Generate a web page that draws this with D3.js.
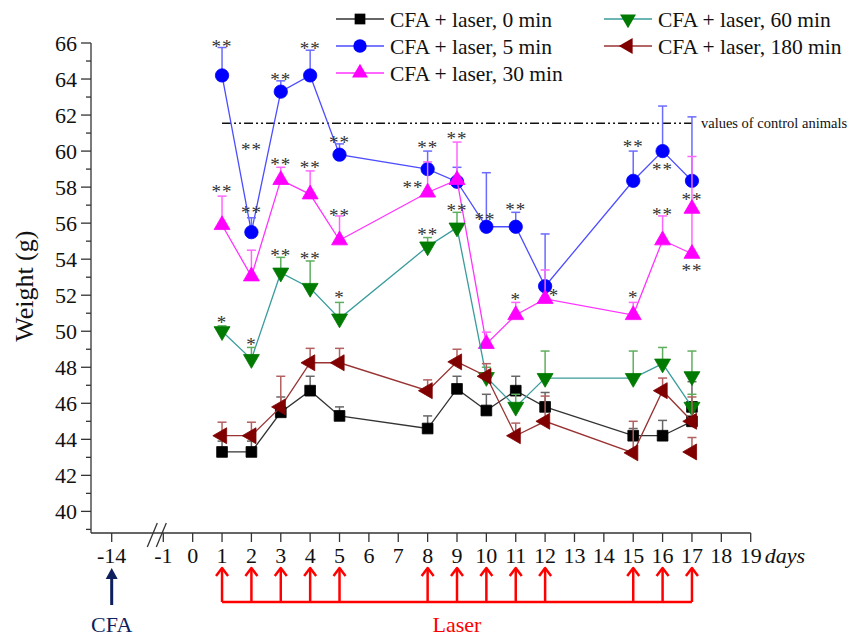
<!DOCTYPE html>
<html>
<head>
<meta charset="utf-8">
<script src="https://cdn.jsdelivr.net/npm/d3@7/dist/d3.min.js"></script>
<style>
  body { margin: 0; background: #fff; }
  svg text { font-family: 'Liberation Serif', 'Times New Roman', serif; }
</style>
</head>
<body>
<svg id="chart" width="860" height="636"></svg>
<script>
// days with measurements (laser applied on these days too)
var days = [1, 2, 3, 4, 5, 8, 9, 10, 11, 12, 15, 16, 17];
var xTicks = [-14, -1, 0, 1, 2, 3, 4, 5, 6, 7, 8, 9, 10, 11, 12, 13, 14, 15, 16, 17, 18, 19];
var yTicks = [40, 42, 44, 46, 48, 50, 52, 54, 56, 58, 60, 62, 64, 66];
var yMinor = [39, 41, 43, 45, 47, 49, 51, 53, 55, 57, 59, 61, 63, 65];

// mean weight and upper error value, per group
var w0 = [43.3, 43.3, 45.5, 46.7, 45.3, 44.6, 46.8, 45.6, 46.7, 45.8, 44.2, 44.2, 45.0];
var e0 = [43.9, 43.9, 46.35, 47.5, 45.8, 45.3, 47.5, 46.5, 47.5, 46.6, 44.6, 45.05, 45.6];
var w5 = [64.2, 55.5, 63.3, 64.2, 59.8, 59.0, 58.3, 55.8, 55.8, 52.5, 58.35, 60.0, 58.35];
var e5 = [65.75, 56.3, 63.9, 65.6, 60.4, 60.0, 59.1, 58.8, 56.6, 55.4, 60.0, 62.5, 61.9];
var w30 = [55.9, 53.05, 58.4, 57.6, 55.05, 57.7, 58.4, 49.3, 50.9, 51.8, 50.9, 55.05, 54.3];
var e30 = [57.5, 54.5, 59.1, 58.9, 56.4, 59.4, 60.5, 49.95, 51.6, 53.4, 51.6, 56.4, 56.6];
var w60 = [50.0, 48.45, 53.25, 52.4, 50.7, 54.7, 55.75, 47.45, 45.8, 47.4, 47.4, 48.2, 45.8];
var e60 = [50.3, 49.1, 54.1, 53.9, 51.6, 55.2, 56.6, 48.0, 46.5, 48.9, 48.9, 49.1, 46.5];
var w180 = [44.2, 44.2, 45.8, 48.25, 48.25, 46.7, 48.3, 47.5, 44.2, 45.0, 43.25, 46.7, 45.0];
var e180 = [44.95, 44.95, 47.5, 49.05, 49.05, 47.3, 49.0, 48.2, 44.9, 46.4, 45.0, 47.4, 46.35];

// second (unconnected) point plotted at day 17
var extraDay = 17;
var extraVal = { w0: 45.8, w30: 56.8, w60: 47.5, w180: 43.3 };
var extraErr = { w0: 47.2, w30: 59.7, w60: 48.9, w180: 44.1 };

var controlValue = 61.55;

// significance marks: day (x position), value (visual centre), text
var starDays = [1, 1, 1, 2, 2, 2, 3, 3, 3, 4, 4, 4, 5, 5, 5, 8, 7.5, 8, 9, 9, 9.95, 11, 11, 12.3, 15, 15, 16, 16, 17, 17];
var starVals = [66.0, 58.0, 50.7, 60.3, 56.8, 49.5, 64.2, 59.5, 54.45, 65.9, 59.3, 54.25, 60.7, 56.65, 52.1,
                60.4, 58.2, 55.6, 60.9, 56.9, 56.4, 56.95, 52.0, 52.2, 60.45, 52.1, 59.2, 56.7, 57.55, 53.6];
var starText = ["**", "**", "*", "**", "**", "*", "**", "**", "**", "**", "**", "**", "**", "**", "*",
                "**", "**", "**", "**", "**", "**", "**", "*", "*", "**", "*", "**", "**", "**", "**"];

var series = [
  { key: "w0", name: "CFA + laser, 0 min", values: w0, err: e0, line: "#333333", fill: "#000000", errc: "#666666", shape: d3.symbolSquare, size: 115, rot: 0 },
  { key: "w5", name: "CFA + laser, 5 min", values: w5, err: e5, line: "#4d4dff", fill: "#0000ff", errc: "#6b6bff", shape: d3.symbolCircle, size: 140, rot: 0 },
  { key: "w30", name: "CFA + laser, 30 min", values: w30, err: e30, line: "#ff33ff", fill: "#ff00ff", errc: "#ff66ff", shape: d3.symbolTriangle, size: 110, rot: 0 },
  { key: "w60", name: "CFA + laser, 60 min", values: w60, err: e60, line: "#3a9c9c", fill: "#007a00", errc: "#5fae5f", shape: d3.symbolTriangle, size: 110, rot: 180 },
  { key: "w180", name: "CFA + laser, 180 min", values: w180, err: e180, line: "#993333", fill: "#800000", errc: "#b36060", shape: d3.symbolTriangle, size: 110, rot: -90 }
];

var svg = d3.select("#chart");

// broken axis: -14 then -1..19
var x = d3.scaleLinear().domain([-14, -1, 19]).range([111.7, 163.3, 750.7]);
var y = d3.scaleLinear().domain([38.8, 66]).range([533, 43]);
var x0 = 91;

// y axis
var yAxis = svg.append("g").attr("transform", "translate(" + x0 + ",0)");
yAxis.append("line").attr("x1", 0).attr("x2", 0).attr("y1", y(66)).attr("y2", y(38.8))
  .attr("stroke", "#333").attr("stroke-width", 1.3);
yAxis.selectAll("line.major").data(yTicks).enter().append("line").attr("class", "major")
  .attr("x1", -10).attr("x2", 0).attr("y1", function (d) { return y(d); }).attr("y2", function (d) { return y(d); })
  .attr("stroke", "#333").attr("stroke-width", 1.3);
yAxis.selectAll("line.minor").data(yMinor).enter().append("line").attr("class", "minor")
  .attr("x1", -5).attr("x2", 0).attr("y1", function (d) { return y(d); }).attr("y2", function (d) { return y(d); })
  .attr("stroke", "#333").attr("stroke-width", 1.3);
yAxis.selectAll("text").data(yTicks).enter().append("text")
  .attr("x", -14).attr("y", function (d) { return y(d); }).attr("dy", "0.35em")
  .attr("text-anchor", "end").attr("font-size", 22).attr("fill", "#111")
  .text(function (d) { return d; });

svg.append("text")
  .attr("transform", "translate(33," + y(52.5) + ") rotate(-90)")
  .attr("text-anchor", "middle").attr("font-size", 26).attr("fill", "#111")
  .text("Weight (g)");

// x axis
var yb = y(38.8);
var xAxis = svg.append("g");
xAxis.append("line").attr("x1", x0).attr("x2", x(19)).attr("y1", yb).attr("y2", yb)
  .attr("stroke", "#333").attr("stroke-width", 1.3);
xAxis.selectAll("line.tick").data(xTicks).enter().append("line").attr("class", "tick")
  .attr("x1", function (d) { return x(d); }).attr("x2", function (d) { return x(d); })
  .attr("y1", yb).attr("y2", yb + 9).attr("stroke", "#333").attr("stroke-width", 1.3);
xAxis.selectAll("text").data(xTicks).enter().append("text")
  .attr("x", function (d) { return x(d); }).attr("y", yb + 30)
  .attr("text-anchor", "middle").attr("font-size", 22).attr("fill", "#111")
  .text(function (d) { return d; });
// break marks
var bx = x(-1) - 11;
[0, 9].forEach(function (o) {
  xAxis.append("line").attr("x1", bx + o - 5).attr("x2", bx + o + 5).attr("y1", yb + 14).attr("y2", yb - 10)
    .attr("stroke", "#333").attr("stroke-width", 1.3);
});
svg.append("text").attr("x", 785).attr("y", yb + 30).attr("text-anchor", "middle")
  .attr("font-size", 22).attr("font-style", "italic").attr("fill", "#111").text("days");

// control level
svg.append("line").attr("x1", x(1)).attr("x2", x(17)).attr("y1", y(controlValue)).attr("y2", y(controlValue))
  .attr("stroke", "#111").attr("stroke-width", 1.5).attr("stroke-dasharray", "9,3,2,3,2,3");
svg.append("text").attr("x", x(17) + 9).attr("y", y(controlValue)).attr("dy", "0.35em")
  .attr("font-size", 14.5).attr("fill", "#111").text("values of control animals");

// series
var line = d3.line().x(function (d) { return x(d.day); }).y(function (d) { return y(d.v); });

series.forEach(function (s) {
  var pts = days.map(function (d, i) { return { day: d, v: s.values[i], e: s.err[i] }; });
  var all = pts;
  if (extraVal[s.key] !== undefined) {
    all = pts.concat([{ day: extraDay, v: extraVal[s.key], e: extraErr[s.key] }]);
  }
  var g = svg.append("g");
  g.append("path").datum(pts).attr("d", line).attr("fill", "none")
    .attr("stroke", s.line).attr("stroke-width", 1.3);
  var eb = g.selectAll("g.err").data(all).enter().append("g").attr("class", "err")
    .attr("stroke", s.errc).attr("stroke-width", 1.5);
  eb.append("line").attr("x1", function (d) { return x(d.day); }).attr("x2", function (d) { return x(d.day); })
    .attr("y1", function (d) { return y(d.v); }).attr("y2", function (d) { return y(d.e); });
  eb.append("line").attr("x1", function (d) { return x(d.day) - 4.5; }).attr("x2", function (d) { return x(d.day) + 4.5; })
    .attr("y1", function (d) { return y(d.e); }).attr("y2", function (d) { return y(d.e); });
  var sym = d3.symbol().type(s.shape).size(s.size);
  g.selectAll("path.mk").data(all).enter().append("path").attr("class", "mk")
    .attr("d", sym)
    .attr("transform", function (d) { return "translate(" + x(d.day) + "," + y(d.v) + ") rotate(" + s.rot + ")"; })
    .attr("fill", s.fill).attr("stroke", s.fill).attr("stroke-width", 0.8);
});

// significance marks
svg.selectAll("text.star").data(starDays).enter().append("text").attr("class", "star")
  .attr("x", function (d) { return x(d); })
  .attr("y", function (d, i) { return y(starVals[i]); })
  .attr("dy", "0.55em").attr("text-anchor", "middle")
  .attr("font-size", 19).attr("letter-spacing", 1).attr("fill", "#333")
  .text(function (d, i) { return starText[i]; });

// legend
var legCols = [336, 604];
series.forEach(function (s, i) {
  var col = i < 3 ? 0 : 1;
  var row = i < 3 ? i : i - 3;
  var lx = legCols[col], ly = 19 + row * 27;
  var lg = svg.append("g").attr("transform", "translate(" + lx + "," + ly + ")");
  lg.append("line").attr("x1", 0).attr("x2", 48).attr("y1", 0).attr("y2", 0)
    .attr("stroke", s.line).attr("stroke-width", 1.3);
  lg.append("path").attr("d", d3.symbol().type(s.shape).size(s.size))
    .attr("transform", "translate(24,0) rotate(" + s.rot + ")").attr("fill", s.fill);
  lg.append("text").attr("x", 54).attr("y", 0).attr("dy", "0.35em")
    .attr("font-size", 21.5).attr("fill", "#111").text(s.name);
});

// treatment arrows
var arrowTop = 568, arrowBottom = 602;
var cfaX = x(-14);
svg.append("line").attr("x1", cfaX).attr("x2", cfaX).attr("y1", arrowBottom + 3).attr("y2", arrowTop + 8)
  .attr("stroke", "#0d1f5c").attr("stroke-width", 3);
svg.append("path").attr("d", "M" + (cfaX - 6) + "," + (arrowTop + 11) + "L" + cfaX + "," + arrowTop + "L" + (cfaX + 6) + "," + (arrowTop + 11) + "Z")
  .attr("fill", "#0d1f5c");
svg.append("text").attr("x", cfaX).attr("y", 632).attr("text-anchor", "middle")
  .attr("font-size", 22).attr("fill", "#0d1f5c").text("CFA");

var red = "#ff0000";
svg.append("line").attr("x1", x(days[0])).attr("x2", x(days[days.length - 1]))
  .attr("y1", arrowBottom).attr("y2", arrowBottom).attr("stroke", red).attr("stroke-width", 2.5);
svg.selectAll("g.laser").data(days).enter().append("g").attr("class", "laser").each(function (d) {
  var gx = x(d), ga = d3.select(this);
  ga.append("line").attr("x1", gx).attr("x2", gx).attr("y1", arrowBottom).attr("y2", arrowTop + 1)
    .attr("stroke", red).attr("stroke-width", 2.5);
  ga.append("path").attr("d", "M" + (gx - 6) + "," + (arrowTop + 8) + "L" + gx + "," + arrowTop + "L" + (gx + 6) + "," + (arrowTop + 8))
    .attr("fill", "none").attr("stroke", red).attr("stroke-width", 2.5).attr("stroke-linejoin", "round");
});
svg.append("text").attr("x", x(9)).attr("y", 632).attr("text-anchor", "middle")
  .attr("font-size", 22).attr("fill", red).text("Laser");
</script>
</body>
</html>
